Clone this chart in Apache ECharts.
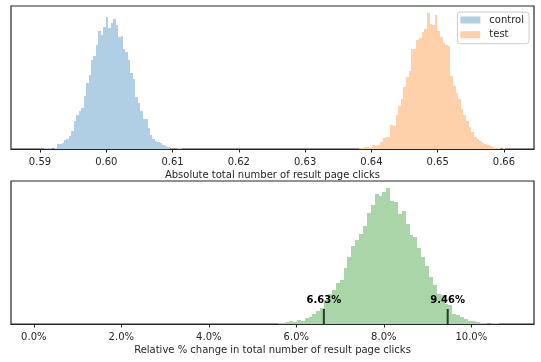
<!DOCTYPE html>
<html>
<head>
<meta charset="utf-8">
<script src="https://cdn.jsdelivr.net/npm/echarts@6/dist/echarts.min.js"></script>
<style>html,body{margin:0;padding:0;background:#fff;}#c{width:541px;height:362px;}</style>
</head>
<body>
<div id="c"></div>
<script>
// ---- data (bar heights, arbitrary count units) ----
const controlStart = 0.590649;
const controlBinWidth = 0.000371;
const controlCounts = [1,1,1,0,1,5,5,6,9,10,13,18,28,34,38,41,53,66,74,89,93,104,118,114,122,132,121,126,130,124,112,113,100,97,89,76,70,52,46,38,30,30,21,14,10,8,7,6,4,3,2,0,0,0,1,1];

const testStart = 0.638130;
const testBinWidth = 0.000394;
const testCounts = [1,1,2,2,1,4,3,4,7,11,12,12,24,23,34,43,50,62,72,78,100,100,109,111,117,120,136,125,124,134,118,112,106,104,103,73,63,56,50,40,34,28,22,17,12,10,8,6,5,4,3,2,1,1,0,1];

const diffStart = 0.055703;
const diffBinWidth = 0.000888;
const diffCounts = [1,1,2,3,2,4,3,6,7,10,13,16,24,30,34,41,44,56,67,78,84,90,98,111,119,130,128,132,136,123,122,110,113,100,89,87,76,67,58,47,39,30,29,20,19,10,9,7,5,3,3,2,1,1,0,1,1];

const ciValues = [0.0663, 0.0946];
const ciLabels = ['6.63%', '9.46%'];
const ciMarkHeight = 15;

const topTicks = [0.59, 0.60, 0.61, 0.62, 0.63, 0.64, 0.65, 0.66];
const bottomTicks = [0, 0.02, 0.04, 0.06, 0.08, 0.10];
const seriesNames = ['control', 'test'];
const topTitle = 'Absolute total number of result page clicks';
const bottomTitle = 'Relative % change in total number of result page clicks';

// ---- build ----
function toBins(start, w, counts) {
  return counts.map((c, i) => [start + i * w, start + (i + 1) * w, c]);
}
function histRender(params, api) {
  const x0 = api.value(0), x1 = api.value(1), y = api.value(2);
  const a = api.coord([x0, y]), b = api.coord([x1, 0]);
  const l = Math.round(a[0]), r = Math.round(b[0]);
  const t = Math.round(a[1]), bt = Math.round(b[1]);
  return {type: 'rect', shape: {x: l, y: t, width: r - l, height: bt - t},
          style: {fill: api.visual('color')}};
}
const FONT = 'DejaVu Sans';
const TXT = '#262626';

function xAxisCfg(grid, min, max, ticks, fmt, name) {
  return {
    type: 'value', gridIndex: grid, min: min, max: max, z: 10,
    axisLine: {show: true, onZero: false, lineStyle: {color: TXT, width: 1.2}},
    axisTick: {show: true, customValues: ticks, length: 3.5, lineStyle: {color: TXT, width: 1}},
    axisLabel: {customValues: ticks, formatter: fmt, fontSize: 10, fontFamily: FONT, color: TXT, margin: 8},
    splitLine: {show: false},
    name: name, nameLocation: 'middle', nameGap: 21,
    nameTextStyle: {fontSize: 10, fontFamily: FONT, color: TXT}
  };
}
function yAxisCfg(grid) {
  return {type: 'value', gridIndex: grid, min: 0, max: 143, show: false};
}

const chart = echarts.init(document.getElementById('c'), null, {renderer: 'canvas'});
chart.setOption({
  animation: false,
  backgroundColor: '#fff',
  grid: [
    {left: 11, width: 523, top: 6, height: 143, show: true, borderColor: TXT, borderWidth: 1.2, backgroundColor: 'transparent'},
    {left: 11, width: 523, top: 181, height: 143, show: true, borderColor: TXT, borderWidth: 1.2, backgroundColor: 'transparent'}
  ],
  xAxis: [
    xAxisCfg(0, 0.585625, 0.664532, topTicks, v => v.toFixed(2), topTitle),
    xAxisCfg(1, -0.005211, 0.11433, bottomTicks, v => (v * 100).toFixed(1) + '%', bottomTitle)
  ],
  yAxis: [yAxisCfg(0), yAxisCfg(1)],
  legend: {
    data: seriesNames, orient: 'vertical', right: 12, top: 12,
    icon: 'rect', itemWidth: 20, itemHeight: 7, itemGap: 2.7,
    backgroundColor: 'rgba(255,255,255,0.8)', borderColor: '#cccccc', borderWidth: 1, borderRadius: 3,
    padding: [2, 5, 3, 3],
    textStyle: {fontSize: 10, fontFamily: FONT, color: TXT, lineHeight: 12, padding: [0, 0, 0, 4]}
  },
  series: [
    {name: seriesNames[0], type: 'custom', xAxisIndex: 0, yAxisIndex: 0, renderItem: histRender,
     itemStyle: {color: '#b0cee4'}, encode: {x: [0, 1], y: 2}, data: toBins(controlStart, controlBinWidth, controlCounts)},
    {name: seriesNames[1], type: 'custom', xAxisIndex: 0, yAxisIndex: 0, renderItem: histRender,
     itemStyle: {color: '#ffd1aa'}, encode: {x: [0, 1], y: 2}, data: toBins(testStart, testBinWidth, testCounts)},
    {name: 'diff', type: 'custom', xAxisIndex: 1, yAxisIndex: 1, renderItem: histRender,
     itemStyle: {color: '#a9d5a9'}, encode: {x: [0, 1], y: 2}, data: toBins(diffStart, diffBinWidth, diffCounts)},
    {name: 'ci', type: 'custom', xAxisIndex: 1, yAxisIndex: 1, z: 5,
     renderItem: function (params, api) {
       const x = api.value(0), h = api.value(1);
       const p0 = api.coord([x, 0]), p1 = api.coord([x, h]);
       return {type: 'group', children: [
         {type: 'line', shape: {x1: p0[0], y1: p0[1], x2: p1[0], y2: p1[1]}, style: {stroke: '#333333', lineWidth: 2}},
         {type: 'text', style: {text: ciLabels[params.dataIndex], x: p1[0], y: p1[1] - 4,
           align: 'center', verticalAlign: 'bottom', font: 'bold 10px "DejaVu Sans"', fill: '#000'}}
       ]};
     },
     encode: {x: 0, y: 1}, data: ciValues.map(v => [v, ciMarkHeight])}
  ]
});
</script>
</body>
</html>
